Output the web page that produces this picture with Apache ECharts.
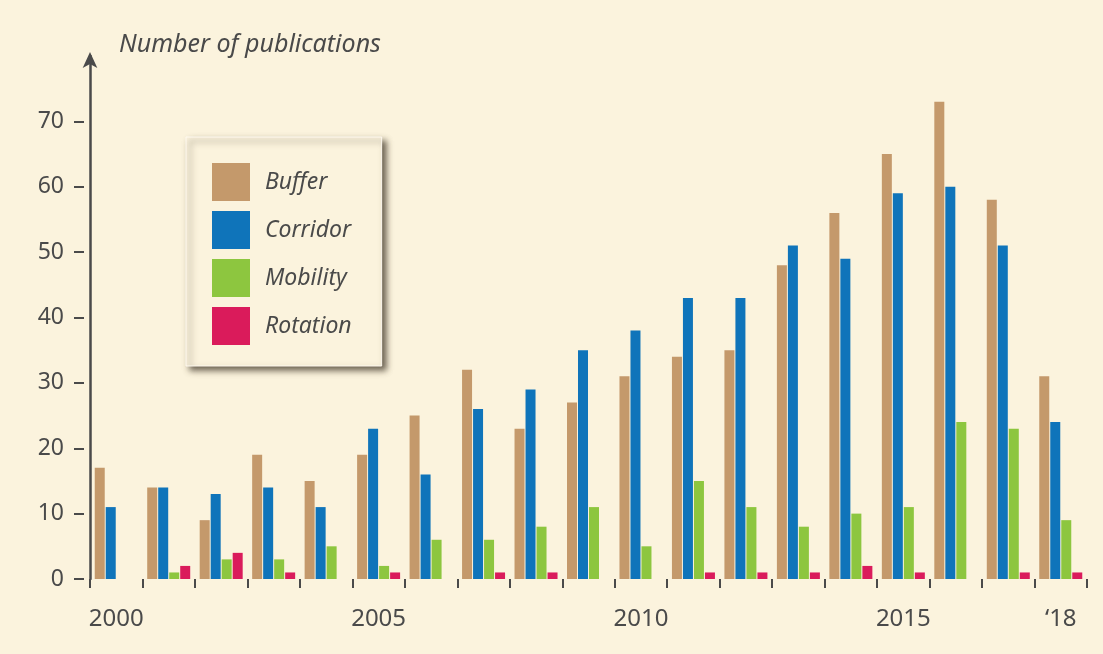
<!DOCTYPE html>
<html>
<head>
<meta charset="utf-8">
<script src="https://cdn.jsdelivr.net/npm/echarts@6/dist/echarts.min.js"></script>
<style>
  html, body { margin: 0; padding: 0; background: #fbf3dd; }
  #chart { width: 1103px; height: 654px; }
</style>
</head>
<body>
<div id="chart"></div>
<script>
// ~~ Data
const years = ['2000', '2001', '2002', '2003', '2004', '2005', '2006', '2007', '2008', '2009',
  '2010', '2011', '2012', '2013', '2014', '2015', '2016', '2017', '2018']
const buffer = [17, 14, 9, 19, 15, 19, 25, 32, 23, 27, 31, 34, 35, 48, 56, 65, 73, 58, 31]
const corridor = [11, 14, 13, 14, 11, 23, 16, 26, 29, 35, 38, 43, 43, 51, 49, 59, 60, 51, 24]
const mobility = [0, 1, 3, 3, 5, 2, 6, 6, 8, 11, 5, 15, 11, 8, 10, 11, 24, 23, 9]
const rotation = [0, 2, 4, 1, 0, 1, 0, 1, 1, 0, 0, 1, 1, 1, 2, 1, 0, 1, 1]
const xLabels = { 2000: '2000', 2005: '2005', 2010: '2010', 2015: '2015', 2018: '\u201818' }
const yTicks = [0, 10, 20, 30, 40, 50, 60, 70]

const INK = '#4a4a4a'
const FONT = '"Noto Sans", "Open Sans", sans-serif'

const _bar = function (name, data, color) {
  return {
    name: name,
    type: 'bar',
    data: data,
    barWidth: 10,
    barGap: '10%',
    itemStyle: { color: color },
  }
}

const option = {
  animation: false,
  backgroundColor: '#fbf3dd',
  textStyle: { fontFamily: FONT },
  title: {
    text: 'Number of publications',
    left: 114,
    top: 27,
    textStyle: { fontSize: 25, fontStyle: 'italic', fontWeight: 'normal', color: INK, fontFamily: FONT },
  },
  legend: {
    orient: 'vertical',
    left: 186,
    top: 137,
    padding: [26, 30, 21, 26],
    itemWidth: 38,
    itemHeight: 38,
    itemGap: 10,
    icon: 'rect',
    backgroundColor: '#fbf3dd',
    borderColor: '#fffaf0',
    borderWidth: 1,
    shadowColor: 'rgba(60, 50, 35, 0.75)',
    shadowBlur: 6,
    shadowOffsetX: 4,
    shadowOffsetY: 4,
    textStyle: { fontSize: 23, fontStyle: 'italic', color: INK, fontFamily: FONT, padding: [0, 0, 0, 10] },
  },
  grid: { left: 90, right: 16, top: 56, bottom: 75, outerBoundsMode: 'none', containLabel: false },
  xAxis: {
    type: 'category',
    data: years,
    offset: 5,
    axisLine: { show: false },
    axisTick: { show: true, interval: 0, length: 9, lineStyle: { color: INK, width: 2 } },
    axisLabel: {
      interval: 0,
      margin: 23,
      fontSize: 24,
      color: INK,
      formatter: (v) => xLabels[v] || '',
    },
  },
  yAxis: [
    {
      type: 'value',
      position: 'left',
      min: 0,
      max: 80,
      interval: 10,
      splitLine: { show: false },
      axisTick: { show: false },
      axisLabel: { show: false },
      axisLine: {
        show: true,
        symbol: ['none', 'arrow'],
        symbolSize: [11, 16],
        symbolOffset: [0, 4],
        lineStyle: { color: INK, width: 2.5 },
      },
    },
    {
      type: 'value',
      position: 'left',
      min: 0,
      max: 80,
      interval: 10,
      offset: 6,
      splitLine: { show: false },
      axisLine: { show: false },
      axisTick: { show: true, length: 10, customValues: yTicks, lineStyle: { color: INK, width: 2 } },
      axisLabel: { margin: 20, fontSize: 23, color: INK, customValues: yTicks },
    },
  ],
  series: [
    _bar('Buffer', buffer, '#c4996b'),
    _bar('Corridor', corridor, '#0f74ba'),
    _bar('Mobility', mobility, '#8dc63f'),
    _bar('Rotation', rotation, '#da1b5b'),
  ],
}

const c = echarts.init(document.getElementById('chart'), null, { renderer: 'canvas' })
c.setOption(option)
</script>
</body>
</html>
